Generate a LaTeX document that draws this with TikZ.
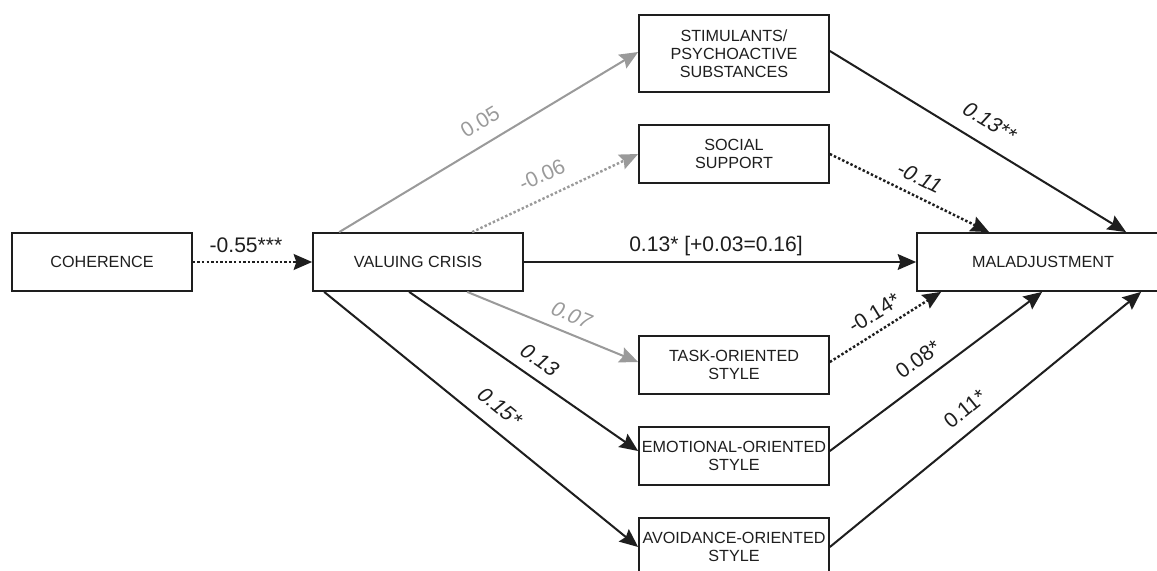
\documentclass[tikz,border=0pt]{standalone}
\usepackage{fontspec}
\setmainfont{Liberation Sans}
\usetikzlibrary{arrows.meta,calc}
\definecolor{ink}{HTML}{1E1E1E}
\definecolor{lgray}{HTML}{9A9A9A}
\begin{document}
\begin{tikzpicture}[x=0.02cm,y=-0.02cm,
  box/.style={draw=ink, line width=1pt, fill=white, text=ink, inner sep=0pt,
    minimum width=3.8cm, minimum height=1.16cm, align=center,
    font=\fontsize{9.2}{10.4}\selectfont},
  conn/.style={line width=1.15pt, draw=ink, -{Stealth[length=10.5pt,width=9pt,inset=1.5pt]}},
  gconn/.style={conn, draw=lgray},
  dots/.style={line width=1.4pt, dash pattern=on 1.4pt off 1.2pt},
  lbl/.style={text=ink, font=\fontsize{12}{14}\selectfont, inner sep=0pt},
  glbl/.style={lbl, text=lgray}]
\useasboundingbox (0,0) rectangle (1157,571);
\clip (0,0) rectangle (1157,571);
% boxes
\node[box, minimum width=3.6cm] (coh) at (102,262) {COHERENCE};
\node[box, minimum width=4.2cm] (vc) at (418,262) {VALUING CRISIS};
\node[box, minimum height=1.54cm] (stim) at (734,53.5) {STIMULANTS/\\PSYCHOACTIVE\\SUBSTANCES};
\node[box] (soc) at (734,154) {SOCIAL\\SUPPORT};
\node[box] (task) at (734,365) {TASK-ORIENTED\\STYLE};
\node[box] (emot) at (734,456) {EMOTIONAL-ORIENTED\\STYLE};
\node[box] (avoid) at (734,547) {AVOIDANCE-ORIENTED\\STYLE};
\node[box, minimum width=5.04cm] (mal) at (1043,262) {MALADJUSTMENT};
% connectors
\draw[conn, dots] (coh.east) -- (vc.west);
\draw[conn] (vc.east) -- (mal.west);
\draw[gconn] ($(vc.north west)+(27,0)$) -- ($(stim.west)+(0,-1.5)$);
\draw[gconn, dots] ($(vc.north west)+(160,0)$) -- (soc.west);
\draw[gconn] ($(vc.south west)+(155,0)$) -- ($(task.west)+(0,-3)$);
\draw[conn] ($(vc.south west)+(97,0)$) -- ($(emot.west)+(0,-5)$);
\draw[conn] ($(vc.south west)+(12,0)$) -- (avoid.west);
\draw[conn] ($(stim.east)+(0,-2.5)$) -- ($(mal.north west)+(210,0)$);
\draw[conn, dots] (soc.east) -- ($(mal.north west)+(73,0)$);
\draw[conn, dots] ($(task.east)+(0,-3)$) -- ($(mal.south west)+(25,0)$);
\draw[conn] ($(emot.east)+(0,-5)$) -- ($(mal.south west)+(126,0)$);
\draw[conn] (avoid.east) -- ($(mal.south west)+(225,0)$);
% labels
\node[lbl] (l1) at (246,245) {-0.55***};
\node[lbl] (l2) at (716,246) {0.13* [+0.03=0.16]};
\node[glbl, rotate=31.2] (l3) at (480,122) {0.05};
\node[glbl, rotate=24.6] (l4) at (542,175) {-0.06};
\node[glbl, rotate=-22.5, xslant=0.2] (l5) at (572,315) {0.07};
\node[lbl, rotate=-34.9, xslant=0.2] (l6) at (540,360) {0.13};
\node[lbl, rotate=-39.2, xslant=0.2] (l7) at (500,407) {0.15*};
\node[lbl, rotate=-31.4, xslant=0.2] (l8) at (990,122) {0.13**};
\node[lbl, rotate=-26.1, xslant=0.2] (l9) at (920,178) {-0.11};
\node[lbl, rotate=31.4] (l10) at (874,313) {-0.14*};
\node[lbl, rotate=36.4] (l11) at (918,359) {0.08*};
\node[lbl, rotate=39.1] (l12) at (965,409) {0.11*};
\end{tikzpicture}
\end{document}
